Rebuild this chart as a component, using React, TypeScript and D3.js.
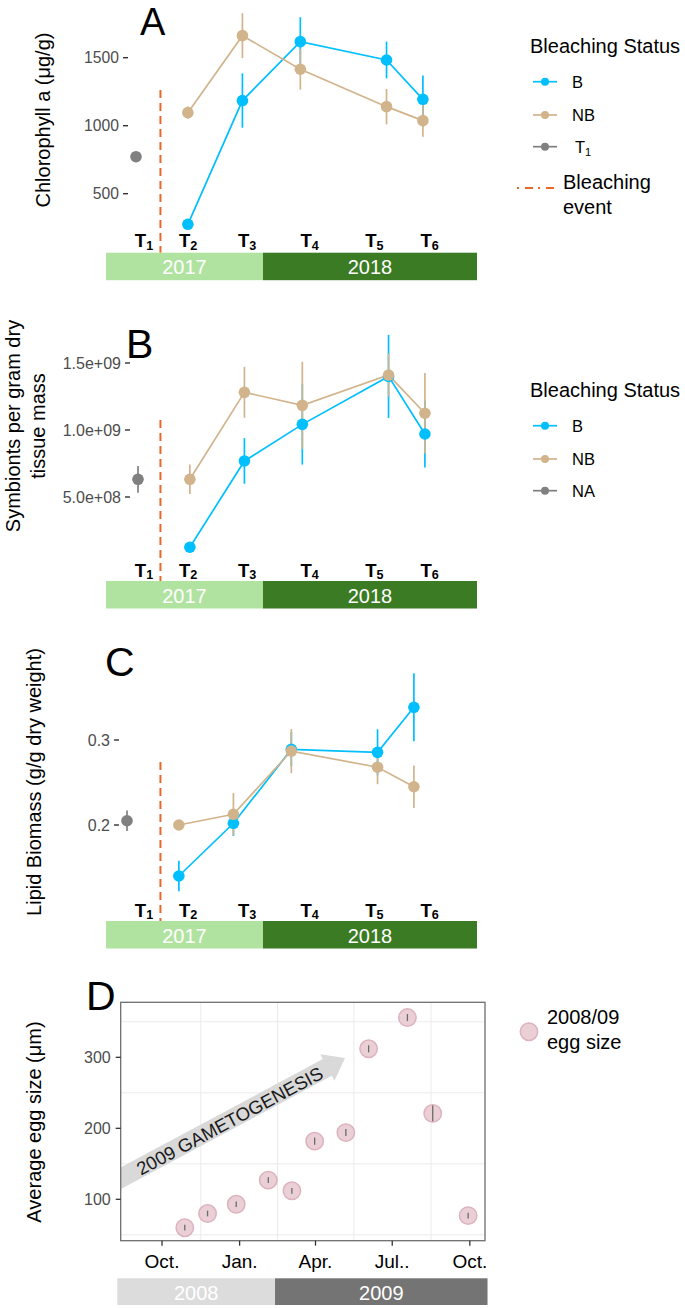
import React from "react";
import * as d3 from "d3";

const FONT = "'Liberation Sans', Arial, Helvetica, sans-serif";

// ---------- shared timeline (panels A–C) ----------
const timepointSubs = ["1", "2", "3", "4", "5", "6"];
const sampleMonths = [0, 3.85, 7.9, 12.2, 18.6, 21.3];
const labelMonths = [0, 3.27, 7.65, 12.3, 17.1, 21.2];
const bleachingMonth = 1.37;
const stripYears = ["2017", "2018"];
const stripBounds = [-2.67, 8.98, 24.87];

// ---------- Panel A: chlorophyll a ----------
const chlT1 = [772];
const chlT1Err = [25];
const chlB = [275, 1185, 1618, 1483, 1194];
const chlBErr = [0, 200, 180, 135, 175];
const chlNB = [1096, 1662, 1415, 1140, 1037];
const chlNBErr = [45, 165, 150, 130, 118];
const chlTicks = [500, 1000, 1500];
const chlTickLabels = ["500", "1000", "1500"];
const chlEventTop = 1262;

// ---------- Panel B: symbionts ----------
const symT1 = [6.32e8];
const symT1Err = [1.0e8];
const symB = [1.25e8, 7.69e8, 1.042e9, 1.4e9, 9.7e8];
const symBErr = [0.2e8, 1.7e8, 3.0e8, 3.1e8, 2.5e8];
const symNB = [6.32e8, 1.281e9, 1.184e9, 1.41e9, 1.125e9];
const symNBErr = [1.1e8, 1.9e8, 3.25e8, 1.6e8, 3.0e8];
const symTicks = [5e8, 1e9, 1.5e9];
const symTickLabels = ["5.0e+08", "1.0e+09", "1.5e+09"];
const symEventTop = 1.075e9;

// ---------- Panel C: lipids ----------
const lipT1 = [0.205];
const lipT1Err = [0.012];
const lipB = [0.14, 0.202, 0.289, 0.2855, 0.3385];
const lipBErr = [0.018, 0.015, 0.02, 0.027, 0.04];
const lipNB = [0.2, 0.2126, 0.287, 0.268, 0.245];
const lipNBErr = [0.004, 0.025, 0.026, 0.02, 0.025];
const lipTicks = [0.2, 0.3];
const lipTickLabels = ["0.2", "0.3"];
const lipEventTop = 0.274;

// ---------- Panel D: egg size ----------
const eggDates = [
  "2008-10-28", "2008-11-24", "2008-12-28", "2009-02-04", "2009-03-04",
  "2009-03-31", "2009-05-07", "2009-06-03", "2009-07-19", "2009-08-18", "2009-09-29",
];
const eggSize = [60, 80, 93, 127, 112, 182, 194, 312, 356, 221, 77];
const eggErr = [4, 4, 4, 4, 4, 5, 5, 5, 5, 11, 4];
const eggTickDates = ["2008-10-01", "2009-01-01", "2009-04-01", "2009-07-01", "2009-10-01"];
const eggTickLabels = ["Oct.", "Jan.", "Apr.", "Jul..", "Oct."];
const eggYTicks = [100, 200, 300];
const eggGridBase = [0, 100, 200, 300, 400];
const eggDomainDates = ["2008-08-13", "2009-10-19"];
const eggYDomain = [41.7, 377.5];
const eggStripYears = ["2008", "2009"];
const eggStripBounds = ["2008-08-09", "2009-02-12", "2009-10-22"];
const arrowFrom = { date: "2008-08-01", value: 122 };
const arrowTo = { date: "2009-05-06", value: 299 };
const arrowText = "2009 GAMETOGENESIS";

// ---------- styles ----------
const C_B = "#00bfff";
const C_NB = "#d2b48c";
const C_T1 = "#808080";
const C_EVENT = "#e8672b";
const STRIP_COLORS = ["#b1e3a0", "#3b7b23"];
const EGG_STRIP_COLORS = ["#dcdcdc", "#747474"];
const MONTH_PX = 13.47;

const parseD = (s: string) => {
  const [y, m, d] = s.split("-").map(Number);
  return new Date(y, m - 1, d);
};

type PanelCfg = {
  letter: string;
  letterX: number;
  letterY: number;
  letterSize: number;
  yDomain: [number, number];
  yRange: [number, number];
  axisX: number;
  labelBaseline: number;
  stripTop: number;
  ticks: number[];
  tickLabels: string[];
  tickFont: number;
  t1: number[];
  t1Err: number[];
  b: number[];
  bErr: number[];
  nb: number[];
  nbErr: number[];
  eventTop: number;
  yTitle: string[];
  yTitleX: number[];
  yTitleY: number;
};

function Tlabel({ x, y, sub, size, bold }: any) {
  return (
    <text x={x} y={y} textAnchor="middle" fontFamily={FONT} fontSize={size} fontWeight={bold ? "bold" : "normal"} fill="#000">
      <tspan>T</tspan>
      <tspan fontSize={size * 0.68} dy={size * 0.14}>{sub}</tspan>
    </text>
  );
}

function TimelinePanel({ cfg }: { cfg: PanelCfg }) {
  const x0 = cfg.axisX + 8;
  const x = d3.scaleLinear().domain([0, 1]).range([x0, x0 + MONTH_PX]);
  const ox = d3.scaleLinear().domain([0, 1]).range([142, 142 + MONTH_PX]);
  const y = d3.scaleLinear().domain(cfg.yDomain).range(cfg.yRange);
  const times = sampleMonths.slice(1);
  const line = d3
    .line<number>()
    .x((_, i) => x(times[i]))
    .y((d) => y(d));
  const stripH = 27.5;

  const series = (vals: number[], errs: number[], color: string, key: string) => ({ vals, errs, color, key });
  const ss = [series(cfg.b, cfg.bErr, C_B, "B"), series(cfg.nb, cfg.nbErr, C_NB, "NB")];

  return (
    <g>
      <text x={cfg.letterX} y={cfg.letterY} fontFamily={FONT} fontSize={cfg.letterSize} fill="#000">
        {cfg.letter}
      </text>
      {cfg.yTitle.map((t, i) => (
        <text
          key={i}
          transform={`translate(${cfg.yTitleX[i]},${cfg.yTitleY}) rotate(-90)`}
          textAnchor="middle"
          dominantBaseline="central"
          fontFamily={FONT}
          fontSize={20}
          fill="#000"
        >
          {t}
        </text>
      ))}
      {cfg.ticks.map((t, i) => (
        <g key={i}>
          <line x1={cfg.axisX - 5} x2={cfg.axisX} y1={y(t)} y2={y(t)} stroke="#333" strokeWidth={1.4} />
          <text
            x={cfg.axisX - 9}
            y={y(t)}
            textAnchor="end"
            dominantBaseline="central"
            fontFamily={FONT}
            fontSize={cfg.tickFont}
            fill="#4d4d4d"
          >
            {cfg.tickLabels[i]}
          </text>
        </g>
      ))}
      <line
        x1={ox(bleachingMonth)}
        x2={ox(bleachingMonth)}
        y1={y(cfg.eventTop)}
        y2={cfg.stripTop}
        stroke={C_EVENT}
        strokeWidth={2}
        strokeDasharray="8,5"
      />
      {ss.map((s) => (
        <path key={"l" + s.key} d={line(s.vals) || ""} fill="none" stroke={s.color} strokeWidth={1.7} />
      ))}
      {ss.map((s) =>
        s.vals.map((v, i) => (
          <line
            key={"e" + s.key + i}
            x1={x(times[i])}
            x2={x(times[i])}
            y1={y(v - s.errs[i])}
            y2={y(v + s.errs[i])}
            stroke={s.color}
            strokeWidth={1.7}
          />
        ))
      )}
      {ss.map((s) =>
        s.vals.map((v, i) => <circle key={"p" + s.key + i} cx={x(times[i])} cy={y(v)} r={5.8} fill={s.color} />)
      )}
      {cfg.t1.map((v, i) => (
        <g key={"t1" + i}>
          <line
            x1={x(sampleMonths[0])}
            x2={x(sampleMonths[0])}
            y1={y(v - cfg.t1Err[i])}
            y2={y(v + cfg.t1Err[i])}
            stroke={C_T1}
            strokeWidth={1.7}
          />
          <circle cx={x(sampleMonths[0])} cy={y(v)} r={5.8} fill={C_T1} />
        </g>
      ))}
      {labelMonths.map((m, i) => (
        <Tlabel key={"tl" + i} x={ox(m) + 2} y={cfg.labelBaseline} sub={timepointSubs[i]} size={18.5} bold />
      ))}
      {stripYears.map((yr, i) => (
        <g key={"s" + yr}>
          <rect
            x={ox(stripBounds[i])}
            y={cfg.stripTop}
            width={ox(stripBounds[i + 1]) - ox(stripBounds[i])}
            height={stripH}
            fill={STRIP_COLORS[i]}
          />
          <text
            x={(ox(stripBounds[i]) + ox(stripBounds[i + 1])) / 2}
            y={cfg.stripTop + stripH / 2 + 1}
            textAnchor="middle"
            dominantBaseline="central"
            fontFamily={FONT}
            fontSize={20}
            fill="#fff"
          >
            {yr}
          </text>
        </g>
      ))}
    </g>
  );
}

function StatusLegend({ top, items, withEvent }: { top: number; items: string[]; withEvent: boolean }) {
  const colors = [C_B, C_NB, C_T1];
  const ys = [top + 35.7, top + 69, top + 100.7];
  return (
    <g fontFamily={FONT}>
      <text x={530} y={top} dominantBaseline="central" fontSize={20} fill="#000">
        Bleaching Status
      </text>
      {items.map((it, i) => (
        <g key={it}>
          <line x1={533} x2={557} y1={ys[i]} y2={ys[i]} stroke={colors[i]} strokeWidth={1.7} />
          <circle cx={545} cy={ys[i]} r={4} fill={colors[i]} />
          {it === "T1" ? (
            <text x={575} y={ys[i] + 6} fontSize={16.5} fill="#000">
              <tspan>T</tspan>
              <tspan fontSize={11} dy={3}>1</tspan>
            </text>
          ) : (
            <text x={572} y={ys[i]} dominantBaseline="central" fontSize={16.5} fill="#000">
              {it}
            </text>
          )}
        </g>
      ))}
      {withEvent && (
        <g>
          <line x1={517} x2={555} y1={top + 142} y2={top + 142} stroke={C_EVENT} strokeWidth={2} strokeDasharray="2,6,8,5" />
          <text x={563} y={top + 135.7} dominantBaseline="central" fontSize={20} fill="#000">
            Bleaching
          </text>
          <text x={563} y={top + 160.7} dominantBaseline="central" fontSize={20} fill="#000">
            event
          </text>
        </g>
      )}
    </g>
  );
}

function EggPanel() {
  const left = 120.7,
    right = 485,
    top = 1002.3,
    bottom = 1240.7;
  const x = d3.scaleTime().domain(eggDomainDates.map(parseD)).range([left, right]);
  const y = d3.scaleLinear().domain(eggYDomain).range([bottom, top]);
  const tickDates = eggTickDates.map(parseD);
  const vGrid = tickDates.slice(1).map((d, i) => new Date((d.getTime() + tickDates[i].getTime()) / 2));
  const hGrid = eggGridBase
    .slice(1)
    .map((v, i) => (v + eggGridBase[i]) / 2)
    .filter((v) => v > eggYDomain[0] && v < eggYDomain[1]);

  const ax0 = x(parseD(arrowFrom.date)),
    ay0 = y(arrowFrom.value);
  const ax1 = x(parseD(arrowTo.date)),
    ay1 = y(arrowTo.value);
  const len = Math.hypot(ax1 - ax0, ay1 - ay0);
  const ang = (Math.atan2(ay1 - ay0, ax1 - ax0) * 180) / Math.PI;
  const sw = 9.5,
    hw = 15,
    hl = 20;
  const arrowPts = [
    [0, -sw],
    [len - hl, -sw],
    [len - hl, -hw],
    [len, 0],
    [len - hl, hw],
    [len - hl, sw],
    [0, sw],
  ]
    .map((p) => p.join(","))
    .join(" ");

  const stripTop = 1278.3,
    stripH = 26.7;
  const sb = eggStripBounds.map(parseD);

  return (
    <g fontFamily={FONT}>
      <text x={86} y={1010} fontSize={41} fill="#000">
        D
      </text>
      <text
        transform={`translate(34,1122) rotate(-90)`}
        textAnchor="middle"
        dominantBaseline="central"
        fontSize={20}
        fill="#000"
      >
        Average egg size (μm)
      </text>
      <defs>
        <clipPath id="eggclip">
          <rect x={left} y={top} width={right - left} height={bottom - top} />
        </clipPath>
      </defs>
      <rect x={left} y={top} width={right - left} height={bottom - top} fill="#fff" />
      {hGrid.map((v) => (
        <line key={"h" + v} x1={left} x2={right} y1={y(v)} y2={y(v)} stroke="#ebebeb" strokeWidth={1} />
      ))}
      {vGrid.map((d, i) => (
        <line key={"v" + i} x1={x(d)} x2={x(d)} y1={top} y2={bottom} stroke="#ebebeb" strokeWidth={1} />
      ))}
      <g clipPath="url(#eggclip)">
        <polygon points={arrowPts} fill="#d9d9d9" transform={`translate(${ax0},${ay0}) rotate(${ang})`} />
        <text
          transform={`translate(${(ax0 + ax1) / 2 + 2},${(ay0 + ay1) / 2}) rotate(${ang})`}
          textAnchor="middle"
          dominantBaseline="central"
          fontSize={18.5}
          fill="#1a1a1a"
        >
          {arrowText}
        </text>
      </g>
      {eggSize.map((v, i) => {
        const cx = x(parseD(eggDates[i]));
        return (
          <g key={"egg" + i}>
            <circle cx={cx} cy={y(v)} r={8.7} fill="#ebcfd6" stroke="#dcb2be" strokeWidth={1.5} />
            <line x1={cx} x2={cx} y1={y(v - eggErr[i])} y2={y(v + eggErr[i])} stroke="#6b6b6b" strokeWidth={1.3} />
          </g>
        );
      })}
      <rect x={left} y={top} width={right - left} height={bottom - top} fill="none" stroke="#6e6e6e" strokeWidth={1.3} />
      {eggYTicks.map((t) => (
        <g key={"yt" + t}>
          <line x1={left - 5} x2={left} y1={y(t)} y2={y(t)} stroke="#333" strokeWidth={1.3} />
          <text x={left - 10} y={y(t)} textAnchor="end" dominantBaseline="central" fontSize={16} fill="#4d4d4d">
            {t}
          </text>
        </g>
      ))}
      {tickDates.map((d, i) => (
        <g key={"xt" + i}>
          <line x1={x(d)} x2={x(d)} y1={bottom} y2={bottom + 5} stroke="#333" strokeWidth={1.3} />
          <text x={x(d)} y={1268} textAnchor="middle" fontSize={19} fill="#000">
            {eggTickLabels[i]}
          </text>
        </g>
      ))}
      {eggStripYears.map((yr, i) => (
        <g key={"es" + yr}>
          <rect x={x(sb[i])} y={stripTop} width={x(sb[i + 1]) - x(sb[i])} height={stripH} fill={EGG_STRIP_COLORS[i]} />
          <text
            x={(x(sb[i]) + x(sb[i + 1])) / 2}
            y={stripTop + stripH / 2 + 1}
            textAnchor="middle"
            dominantBaseline="central"
            fontSize={20}
            fill="#fff"
          >
            {yr}
          </text>
        </g>
      ))}
      <circle cx={529} cy={1031.7} r={8.7} fill="#ebcfd6" stroke="#dcb2be" strokeWidth={1.5} />
      <text x={547} y={1017.3} dominantBaseline="central" fontSize={20} fill="#000">
        2008/09
      </text>
      <text x={547} y={1041.7} dominantBaseline="central" fontSize={20} fill="#000">
        egg size
      </text>
    </g>
  );
}

const panelA: PanelCfg = {
  letter: "A",
  letterX: 140,
  letterY: 34.6,
  letterSize: 38,
  yDomain: [200, 1800],
  yRange: [234.5, 16.9],
  axisX: 128,
  labelBaseline: 247,
  stripTop: 252.7,
  ticks: chlTicks,
  tickLabels: chlTickLabels,
  tickFont: 15.7,
  t1: chlT1,
  t1Err: chlT1Err,
  b: chlB,
  bErr: chlBErr,
  nb: chlNB,
  nbErr: chlNBErr,
  eventTop: chlEventTop,
  yTitle: ["Chlorophyll a (μg/g)"],
  yTitleX: [43],
  yTitleY: 120,
};

const panelB: PanelCfg = {
  letter: "B",
  letterX: 126,
  letterY: 358,
  letterSize: 41,
  yDomain: [0, 1.6e9],
  yRange: [564, 349.6],
  axisX: 130,
  labelBaseline: 576.7,
  stripTop: 581,
  ticks: symTicks,
  tickLabels: symTickLabels,
  tickFont: 16,
  t1: symT1,
  t1Err: symT1Err,
  b: symB,
  bErr: symBErr,
  nb: symNB,
  nbErr: symNBErr,
  eventTop: symEventTop,
  yTitle: ["Symbionts per gram dry", "tissue mass"],
  yTitleX: [13, 38],
  yTitleY: 426,
};

const panelC: PanelCfg = {
  letter: "C",
  letterX: 105,
  letterY: 676,
  letterSize: 41,
  yDomain: [0.1, 0.35],
  yRange: [910, 697.5],
  axisX: 119,
  labelBaseline: 916.7,
  stripTop: 921,
  ticks: lipTicks,
  tickLabels: lipTickLabels,
  tickFont: 16,
  t1: lipT1,
  t1Err: lipT1Err,
  b: lipB,
  bErr: lipBErr,
  nb: lipNB,
  nbErr: lipNBErr,
  eventTop: lipEventTop,
  yTitle: ["Lipid Biomass (g/g dry weight)"],
  yTitleX: [34],
  yTitleY: 782,
};

export default function App() {
  return (
    <svg
      width={685}
      height={1308}
      viewBox="0 0 685 1308"
      style={{ position: "absolute", left: 0, top: 0, background: "#fff" }}
    >
      <rect x={0} y={0} width={685} height={1308} fill="#fff" />
      <TimelinePanel cfg={panelA} />
      <StatusLegend top={46} items={["B", "NB", "T1"]} withEvent />
      <TimelinePanel cfg={panelB} />
      <StatusLegend top={390} items={["B", "NB", "NA"]} withEvent={false} />
      <TimelinePanel cfg={panelC} />
      <EggPanel />
    </svg>
  );
}
